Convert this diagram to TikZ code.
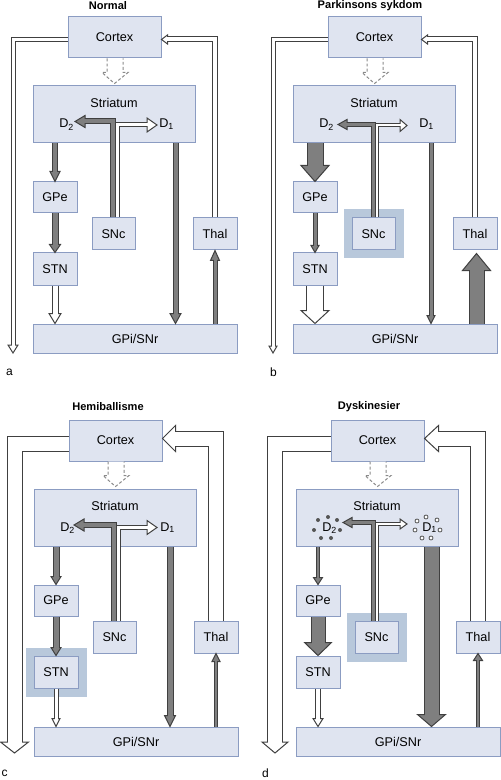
\documentclass[tikz,border=0pt]{standalone}
\usepackage{fontspec}
\setmainfont{Liberation Sans}
\usetikzlibrary{calc,fit,backgrounds}
\definecolor{boxfill}{HTML}{DFE4F0}
\definecolor{boxline}{HTML}{8B9CC2}
\definecolor{hlfill}{HTML}{B8C8DB}
\definecolor{grayar}{HTML}{7F7F7F}
\definecolor{arrline}{HTML}{404040}
\definecolor{dashc}{HTML}{8A8A8A}
\definecolor{dotc}{HTML}{555555}
\tikzset{
 box/.style={draw=boxline, fill=boxfill, line width=0.75pt, inner sep=0pt, font=\fontsize{9.5}{11}\selectfont},
 bx/.style 2 args={minimum width=#1*0.75pt, minimum height=#2*0.75pt},
 lbl/.style={inner sep=0pt, font=\fontsize{9.5}{11}\selectfont},
 ttl/.style={inner sep=0pt, font=\fontsize{8.3}{10}\selectfont\bfseries},
 plet/.style={inner sep=0pt, font=\fontsize{9}{10}\selectfont},
 hl/.style={fill=hlfill, inner sep=6pt},
 dashar/.style={draw=dashc, line width=0.75pt, dash pattern=on 2.2pt off 1.6pt, fill=white},
 fdot/.style={fill=dotc, draw=none},
 odot/.style={fill=white, draw=dotc, line width=0.6pt},
}
% fat arrow: #1 fill, #2 width(px), #3 path prefix, #4 tip, #5 dir, #6 perp, #7 half head width, #8 head length
\newcommand\FAr[8]{%
 \pgfmathsetmacro\ow{(#2+1)*0.75}%
 \pgfmathsetmacro\iw{max(#2-1,0.5)*0.75}%
 \draw[draw=arrline, line width=\ow pt] #3 ($#4-#8*(#5)$);
 \filldraw[fill=#1, draw=arrline, line width=0.75pt, line join=miter] ($#4-#8*(#5)+#7*(#6)$) -- #4 -- ($#4-#8*(#5)-#7*(#6)$) -- cycle;
 \draw[draw=#1, line width=\iw pt] #3 ($#4-#8*(#5)+1.4*(#5)$);
}
\newcommand\ArD[6]{\FAr{#1}{#2}{#3}{#4}{0,1}{1,0}{#5}{#6}}
\newcommand\ArU[6]{\FAr{#1}{#2}{#3}{#4}{0,-1}{1,0}{#5}{#6}}
\newcommand\ArL[6]{\FAr{#1}{#2}{#3}{#4}{-1,0}{0,1}{#5}{#6}}
\newcommand\ArR[6]{\FAr{#1}{#2}{#3}{#4}{1,0}{0,1}{#5}{#6}}
% common boxes of a panel, offset \X,\Y
\newcommand\Boxes[1]{%
 \node[box, bx={93}{41}] (#1-cortex) at (\X+114.5,\Y+37.5) {Cortex};
 \node[box, bx={162}{57}] (#1-str) at (\X+114,\Y+114.5) {};
 \node[lbl] (#1-strl) at (\X+114,\Y+103) {Striatum};
 \node[box, bx={44}{31}] (#1-gpe) at (\X+55,\Y+197.5) {GPe};
 \node[box, bx={44}{32}] (#1-stn) at (\X+55,\Y+269) {STN};
 \node[box, bx={43}{32}] (#1-snc) at (\X+113.5,\Y+234) {SNc};
 \node[box, bx={44}{32}] (#1-thal) at (\X+215,\Y+234) {Thal};
 \node[box, bx={204}{29}] (#1-gpi) at (\X+135,\Y+338.5) {GPi/SNr};
 \node[lbl, anchor=base west] (#1-d2) at (\X+59,\Y+128) {D\textsubscript{2}};
 \node[lbl, anchor=base west] (#1-d1) at (\X+159,\Y+128) {D\textsubscript{1}};
 \draw[dashar] ($(#1-cortex.south)+(-7.5,0)$) -- ++(0,14) -- ++(-5,0) -- ($(#1-str.north)+(0.5,-2)$) -- ($(#1-cortex.south)+(13.5,14)$) -- ++(-5,0) -- ++(0,-14);
}
\begin{document}
\begin{tikzpicture}[x=0.75pt,y=-0.75pt]
\useasboundingbox (0,0) rectangle (500,780);
% ================= a =================
\def\X{0}\def\Y{0}
\node[ttl] (a-title) at (108,6) {Normal};
\node[plet] (a-let) at (9.5,372) {a};
\Boxes{a}
\coordinate (a-ltip) at (\X+13,\Y+353);
\coordinate (a-rtip) at ($(a-cortex.east)+(0,2)$);
\ArD{white}{4}{($(a-cortex.west)+(0,2)$) -|}{(a-ltip)}{5}{8}
\ArL{white}{5}{(a-thal.north) |-}{(a-rtip)}{4.5}{6}
\ArD{grayar}{5}{(a-gpe.north |- a-str.south) --}{(a-gpe.north)}{5}{10}
\ArD{grayar}{6}{(a-gpe.south) --}{(a-stn.north)}{5.5}{8}
\coordinate (a-t3) at (a-stn.south |- a-gpi.north);
\ArD{white}{6}{(a-stn.south) --}{(a-t3)}{6}{10}
\coordinate (a-d1s) at ($(a-str.south)+(61.5,0)$);
\coordinate (a-d1g) at (a-d1s |- a-gpi.north);
\ArD{grayar}{5}{(a-d1s) --}{(a-d1g)}{5.5}{10}
\coordinate (a-t5) at (a-thal.south |- a-gpi.north);
\ArU{grayar}{4}{(a-t5) --}{(a-thal.south)}{4.5}{10}
\coordinate (a-s1) at ($(a-snc.north)+(-1,0)$);
\coordinate (a-d2t) at (\X+75,\Y+121.5);
\ArL{grayar}{5}{(a-s1) |-}{(a-d2t)}{6}{10}
\coordinate (a-s2) at ($(a-snc.north)+(3.5,0)$);
\coordinate (a-d1t) at (\X+157,\Y+125);
\ArR{white}{4}{(a-s2) |-}{(a-d1t)}{7}{10}
% ================= b =================
\def\X{260}\def\Y{0}
\node[ttl] (b-title) at (370,6) {Parkinsons sykdom};
\node[plet] (b-let) at (273.5,372) {b};
\Boxes{b}
\begin{pgfonlayer}{background}
\node[hl, fit=(b-snc)] (b-snch) {};
\end{pgfonlayer}
\coordinate (b-ltip) at (\X+13,\Y+353);
\coordinate (b-rtip) at ($(b-cortex.east)+(0,2)$);
\ArD{white}{4}{($(b-cortex.west)+(0,2)$) -|}{(b-ltip)}{4}{7}
\ArL{white}{5}{(b-thal.north) |-}{(b-rtip)}{4.5}{6}
\ArD{grayar}{16}{(b-gpe.north |- b-str.south) --}{(b-gpe.north)}{14}{16}
\ArD{grayar}{4}{(b-gpe.south) --}{(b-stn.north)}{4}{7}
\coordinate (b-t3) at (b-stn.south |- b-gpi.north);
\ArD{white}{17}{(b-stn.south) --}{(b-t3)}{14}{13}
\coordinate (b-d1s) at ($(b-str.south)+(57,0)$);
\coordinate (b-d1g) at (b-d1s |- b-gpi.north);
\ArD{grayar}{4}{(b-d1s) --}{(b-d1g)}{4}{8}
\coordinate (b-t5) at ($(b-thal.south |- b-gpi.north)+(1.5,0)$);
\coordinate (b-t5t) at ($(b-thal.south)+(1.5,3)$);
\ArU{grayar}{15}{(b-t5) --}{(b-t5t)}{14}{17}
\coordinate (b-s1) at ($(b-snc.north)+(-0.5,0)$);
\coordinate (b-d2t) at (\X+78,\Y+124.5);
\ArL{grayar}{4}{(b-s1) |-}{(b-d2t)}{5}{9}
\coordinate (b-s2) at ($(b-snc.north)+(3,0)$);
\coordinate (b-d1t) at (\X+147,\Y+125.5);
\ArR{white}{3}{(b-s2) |-}{(b-d1t)}{6}{7}
% ================= c =================
\def\X{1}\def\Y{403}
\node[ttl] (c-title) at (108,407) {Hemiballisme};
\node[plet] (c-let) at (4.5,773) {c};
\Boxes{c}
\begin{pgfonlayer}{background}
\node[hl, fit=(c-stn)] (c-stnh) {};
\end{pgfonlayer}
\coordinate (c-ltip) at (\X+13.5,\Y+350);
\coordinate (c-rtip) at ($(c-cortex.east)+(0,-2)$);
\ArD{white}{15}{($(c-cortex.west)+(0,3)$) -|}{(c-ltip)}{14}{11}
\ArL{white}{15}{(c-thal.north) |-}{(c-rtip)}{13}{13}
\ArD{grayar}{6}{(c-gpe.north |- c-str.south) --}{(c-gpe.north)}{5}{8}
\ArD{grayar}{6}{(c-gpe.south) --}{(c-stn.north)}{5}{8}
\coordinate (c-t3) at (c-stn.south |- c-gpi.north);
\ArD{white}{4}{(c-stn.south) --}{(c-t3)}{4}{8}
\coordinate (c-d1s) at ($(c-str.south)+(55,0)$);
\coordinate (c-d1g) at (c-d1s |- c-gpi.north);
\ArD{grayar}{6}{(c-d1s) --}{(c-d1g)}{5.5}{11}
\coordinate (c-t5) at (c-thal.south |- c-gpi.north);
\ArU{grayar}{3}{(c-t5) --}{(c-thal.south)}{4}{8}
\coordinate (c-s1) at ($(c-snc.north)+(-1,0)$);
\coordinate (c-d2t) at (\X+73,\Y+122);
\ArL{grayar}{5}{(c-s1) |-}{(c-d2t)}{6}{10}
\coordinate (c-s2) at ($(c-snc.north)+(3.5,0)$);
\coordinate (c-d1t) at (\X+156,\Y+124.5);
\ArR{white}{4}{(c-s2) |-}{(c-d1t)}{7}{10}
% ================= d =================
\def\X{263}\def\Y{403}
\node[ttl] (d-title) at (369,407) {Dyskinesier};
\node[plet] (d-let) at (265.5,773) {d};
\Boxes{d}
\begin{pgfonlayer}{background}
\node[hl, fit=(d-snc)] (d-snch) {};
\end{pgfonlayer}
\coordinate (d-ltip) at (\X+12,\Y+350);
\coordinate (d-rtip) at ($(d-cortex.east)+(0,-2)$);
\ArD{white}{15}{($(d-cortex.west)+(0,3)$) -|}{(d-ltip)}{13}{11}
\ArL{white}{15}{(d-thal.north) |-}{(d-rtip)}{13}{14}
\ArD{grayar}{3}{(d-gpe.north |- d-str.south) --}{(d-gpe.north)}{4.5}{7}
\ArD{grayar}{14}{(d-gpe.south) --}{(d-stn.north)}{13.5}{13}
\coordinate (d-t3) at (d-stn.south |- d-gpi.north);
\ArD{white}{5}{(d-stn.south) --}{(d-t3)}{5}{8}
\coordinate (d-d1s) at ($(d-str.south)+(54.5,0)$);
\coordinate (d-d1g) at (d-d1s |- d-gpi.north);
\ArD{grayar}{15}{(d-d1s) --}{(d-d1g)}{14}{12}
\coordinate (d-t5) at (d-thal.south |- d-gpi.north);
\ArU{grayar}{3}{(d-t5) --}{(d-thal.south)}{4.5}{7}
\coordinate (d-s1) at ($(d-snc.north)+(-3,0)$);
\coordinate (d-d2t) at (\X+80,\Y+119.5);
\ArL{grayar}{4}{(d-s1) |-}{(d-d2t)}{5}{9}
\coordinate (d-s2) at ($(d-snc.north)+(0.5,0)$);
\coordinate (d-d1t) at (\X+144,\Y+121);
\ArR{white}{3}{(d-s2) |-}{(d-d1t)}{5}{7}
\foreach \px/\py in {55/117,65/114,74/117,51/127,77/127,58/135,68/135}
 \fill[fdot] (\X+\px,\Y+\py) circle[radius=1.5pt];
\foreach \px/\py in {154/118,163/114,174/117,152/127,177/127,159/135,168/135}
 \filldraw[odot] (\X+\px,\Y+\py) circle[radius=1.5pt];
\end{tikzpicture}
\end{document}
